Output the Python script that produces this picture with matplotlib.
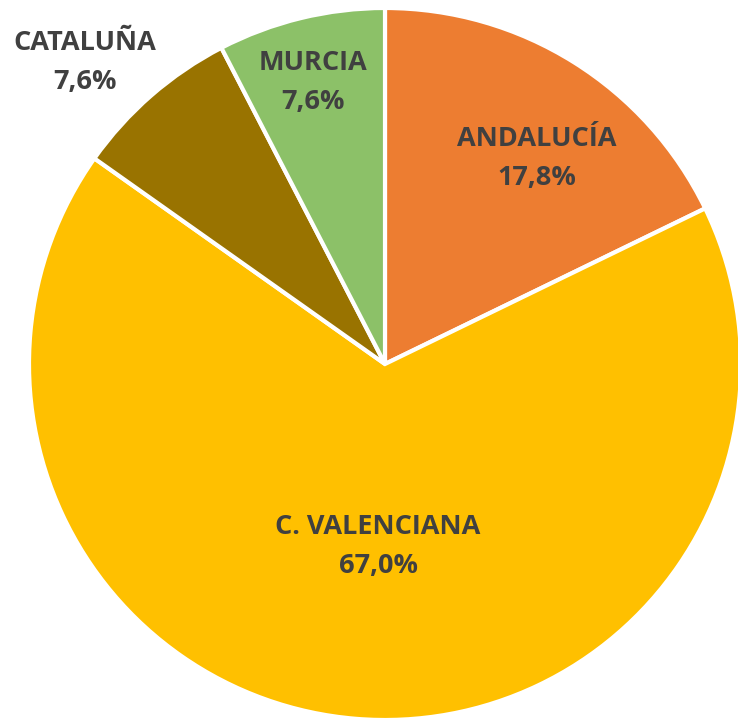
import matplotlib
matplotlib.use("Agg")
import matplotlib.pyplot as plt

regions = ["ANDALUCÍA", "C. VALENCIANA", "CATALUÑA", "MURCIA"]
shares = [17.8, 67.0, 7.6, 7.6]
colors = ["#ED7D31", "#FFC000", "#997300", "#8CC168"]

# label positions in pixel coords (x, y from top)
label_pos = [(537, 159), (378, 547), (85, 63), (313, 83)]

W, H = 738, 720
fig = plt.figure(figsize=(W / 100, H / 100), dpi=100)
ax = fig.add_axes([0, 0, 1, 1])

cx, cy, r = 385, H - 364, 356
ax.pie(shares, colors=colors, startangle=90, counterclock=False,
       center=(cx, cy), radius=r, frame=True,
       wedgeprops=dict(edgecolor="white", linewidth=3))
ax.set_xlim(0, W)
ax.set_ylim(0, H)
ax.set_aspect("equal")
ax.axis("off")

for name, val, (x, y) in zip(regions, shares, label_pos):
    pct = f"{val:.1f}".replace(".", ",")
    txt = f"{name}\n{pct}%"
    ax.text(x, H - y, txt, ha="center", va="center", fontsize=19.5,
            fontweight="bold", color="#404040", family="Open Sans",
            linespacing=1.65)

fig.savefig("out.png", dpi=100)
